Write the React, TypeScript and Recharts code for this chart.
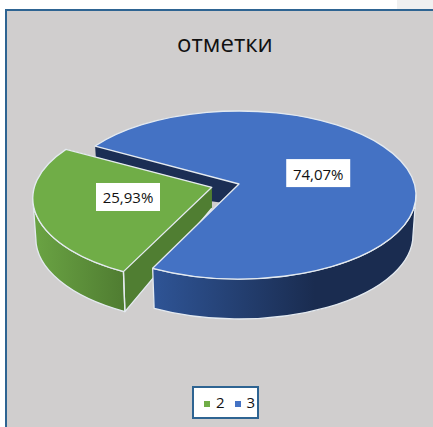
import React from "react";
import { PieChart, Pie, Cell, Legend } from "recharts";

const categories = ["3", "2"];
const values = [20, 7];
const colors = ["#4472C4", "#70AD47"];
const faceColors = ["#1B2E54", "#507E32"];
const sideStops = [
  ["#2F5597", "#1A2C50"],
  ["#6AA343", "#4F7C31"],
];
const chartTitle = "отметки";

const data = categories.map((name, i) => ({ name, value: values[i] }));

const TILT = 84 / 177;
const DEPTH = 40;
const BOTTOM_RX = 174;
const APEX_UP = 11;
const APEX_DEPTH = 21;
const APEX_DX = [0, 2];
const EXPLODE = [0, 30];
const LABEL_R = [0.46, 0.475];
const LABEL_DY = [-2, 0.5];
const RAD = Math.PI / 180;

// the perspective of the 3D view moves the rim points a little along the ellipse
const warp = (a: number) => a - 1.1 - 2.19 * Math.sin(a * RAD);

function center(p: any, idx: number) {
  const mid = ((p.startAngle + p.endAngle) / 2) * RAD;
  const e = EXPLODE[idx] || 0;
  return { x: p.cx + e * Math.cos(mid), y: p.cy - e * TILT * Math.sin(mid) };
}

function Sector3D(props: any) {
  const idx = categories.indexOf(props.name);
  const c = center(props, idx);
  const rx = props.outerRadius;
  const ry = rx * TILT;
  const bry = ry;
  const top = (a: number) => [c.x + rx * Math.cos(a * RAD), c.y - ry * Math.sin(a * RAD)];
  const bot = (a: number) => [c.x + BOTTOM_RX * Math.cos(a * RAD), c.y + DEPTH - bry * Math.sin(a * RAD)];
  const hi = warp(props.startAngle);
  const lo = warp(props.endAngle);
  const apex = [c.x + APEX_DX[idx], c.y - APEX_UP];
  const apexB = [apex[0], apex[1] + APEX_DEPTH];
  const large = hi - lo > 180 ? 1 : 0;
  const topPath = `M${apex} L${top(hi)} A${rx} ${ry} 0 ${large} 1 ${top(lo)} Z`;
  const face = (a: number) => `M${apex} L${top(a)} L${bot(a)} L${apexB} Z`;
  const a = Math.min(hi, 0);
  const b = Math.max(lo, -180);
  const sidePath =
    a > b
      ? `M${top(a)} A${rx} ${ry} 0 0 1 ${top(b)} L${bot(b)} A${BOTTOM_RX} ${bry} 0 0 0 ${bot(a)} Z`
      : "";
  const gid = `side-${idx}`;
  const line = { stroke: "#E4EAF0", strokeWidth: 1.3, strokeLinejoin: "round" as const };
  const gx1 = idx === 0 ? 150 : 35;
  const gx2 = idx === 0 ? 315 : 125;
  const front = (
    <g>
      {sidePath && <path d={sidePath} fill={`url(#${gid})`} {...line} />}
      {idx === 1 && <path d={`M${top(hi)} L${bot(hi)} L${apexB}`} fill="none" {...line} />}
      <path d={topPath} fill={props.fill} {...line} />
    </g>
  );
  return (
    <g>
      <defs>
        <linearGradient id={gid} gradientUnits="userSpaceOnUse" x1={gx1} x2={gx2} y1="0" y2="0">
          <stop offset="0" stopColor={sideStops[idx][0]} />
          <stop offset="1" stopColor={sideStops[idx][1]} />
        </linearGradient>
        {idx === 0 && <g id="big-slice-front">{front}</g>}
      </defs>
      <path d={face(lo)} fill={faceColors[idx]} />
      <path d={face(hi)} fill={faceColors[idx]} />
      {idx === 1 && front}
      {idx === 1 && <use href="#big-slice-front" />}
    </g>
  );
}

function PctLabel(props: any) {
  const idx = categories.indexOf(props.name);
  const c = center(props, idx);
  const rx = props.outerRadius;
  const r = LABEL_R[idx];
  const x = c.x + rx * r * Math.cos(props.midAngle * RAD);
  const y = c.y - APEX_UP - rx * TILT * r * Math.sin(props.midAngle * RAD) + LABEL_DY[idx];
  const text = (props.percent * 100).toFixed(2).replace(".", ",") + "%";
  return (
    <g>
      <rect x={x - 32} y={y - 14} width={64} height={28} fill="#fff" />
      <text
        x={x}
        y={y + 0.5}
        textAnchor="middle"
        dominantBaseline="central"
        fontFamily="'Open Sans', sans-serif"
        fontSize={15}
        fill="#111"
      >
        {text}
      </text>
    </g>
  );
}

export default function App() {
  return (
    <div style={{ position: "absolute", left: 0, top: 0, width: 433, height: 427, overflow: "hidden", background: "#fff" }}>
      <div style={{ position: "absolute", left: 397, top: 0, width: 36, height: 10, background: "#F0F0F0" }} />
      <div
        style={{
          position: "absolute",
          left: 5,
          top: 9,
          width: 460,
          height: 460,
          background: "#D0CECE",
          border: "2px solid #2E6492",
          boxSizing: "border-box",
        }}
      />
      <div style={{ position: "absolute", left: 0, top: 0 }}>
        <PieChart width={433} height={427} margin={{ top: 0, right: 0, bottom: 0, left: 0 }}>
          <text
            x={225}
            y={52}
            textAnchor="middle"
            fontFamily="'Open Sans', sans-serif"
            fontSize={24}
            fill="#111"
          >
            {chartTitle}
          </text>
          <Pie
            data={data}
            dataKey="value"
            nameKey="name"
            cx={239}
            cy={195}
            outerRadius={177}
            innerRadius={0}
            startAngle={146.67}
            endAngle={-213.33}
            stroke="none"
            isAnimationActive={false}
            shape={Sector3D}
            label={PctLabel}
            labelLine={false}
          >
            {data.map((d, i) => (
              <Cell key={d.name} fill={colors[i]} />
            ))}
          </Pie>
          <Legend
            itemSorter="value"
            iconType="square"
            iconSize={6}
            wrapperStyle={{
              left: 192,
              top: 386,
              bottom: "auto",
              width: 67,
              height: 33,
              paddingLeft: 10,
              background: "#fff",
              border: "2px solid #2E6492",
              boxSizing: "border-box",
              lineHeight: "29px",
              fontFamily: "'Open Sans', sans-serif",
              fontSize: 15,
              whiteSpace: "nowrap",
            }}
            formatter={(v: any) => <span style={{ color: "#111", marginLeft: 2 }}>{v}</span>}
          />
        </PieChart>
      </div>
    </div>
  );
}
